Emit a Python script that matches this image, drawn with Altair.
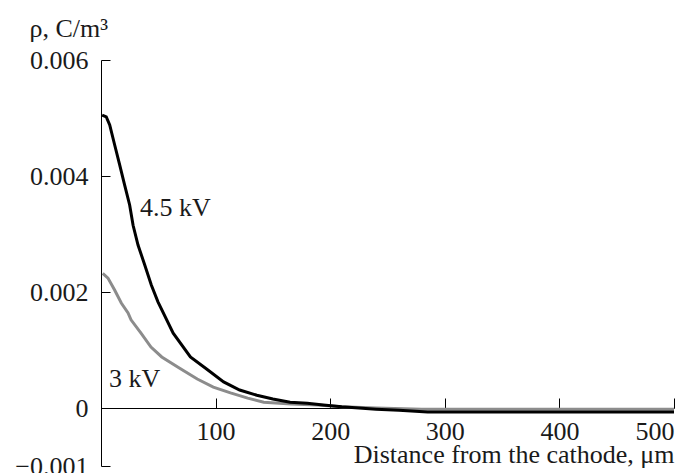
import altair as alt
import pandas as pd

# 4.5 kV curve
x_45 = [1, 4.6, 7.6, 12, 16.3, 20.7, 25, 28, 32.3, 38.1, 43.9, 49.7, 63, 78, 93, 107, 121, 136, 150, 165, 180,
        194, 210, 225, 240, 260, 285, 320, 400, 500]
y_45 = [0.00505, 0.00502, 0.00488, 0.00453, 0.00419, 0.00384, 0.00350, 0.00315, 0.00281, 0.00247, 0.00212,
        0.00183, 0.00129, 0.00088, 0.00066, 0.00045, 0.00031, 0.00022, 0.000155, 0.00010, 0.00008,
        0.00005, 0.00002, 0.0, -0.00002, -0.00004, -0.00007, -0.00007, -0.00007, -0.00007]
# 3 kV curve
x_3 = [1.5, 6.1, 12, 17.7, 23.6, 26.2, 34.9, 43.6, 53, 69, 84, 98, 113, 128, 142, 166, 189, 210, 240, 280, 350, 500]
y_3 = [0.00232, 0.00224, 0.00203, 0.00181, 0.00164, 0.00152, 0.00129, 0.00105, 0.00088, 0.00068, 0.00050,
       0.00036, 0.00026, 0.00017, 0.00010, 0.00007, 0.00005, 0.00002, 0.0, -0.00002, -0.00002, -0.00002]

series_names = ["4.5 kV", "3 kV"]
label_x = [34, 7]
label_y = [0.00331, 0.00036]
x_ticks = [100, 200, 300, 400, 500]
y_ticks = [-0.001, 0, 0.002, 0.004, 0.006]

W, H = 573, 406
FONT = "'Liberation Serif', 'Times New Roman', 'DejaVu Serif', serif"
FS = 26
TXT = "#1a1a1a"

df45 = pd.DataFrame({"x": x_45, "y": y_45})
df3 = pd.DataFrame({"x": x_3, "y": y_3})
dlab = pd.DataFrame({"x": label_x, "y": label_y, "t": series_names})

xscale = alt.Scale(domain=[0, 500], nice=False, zero=False)
yscale = alt.Scale(domain=[-0.001, 0.006], nice=False, zero=False)

zero_offset = -(H * 0.006 / 0.007)

gray = alt.Chart(df3).mark_line(color="#8c8c8c", strokeWidth=3).encode(
    x=alt.X("x:Q", scale=xscale, axis=alt.Axis(
        orient="bottom", offset=-(H + zero_offset), values=x_ticks, ticks=False, domain=False, grid=False,
        labelPadding=10, labelFont=FONT, labelFontSize=FS, labelColor=TXT,
        title="Distance from the cathode, μm", titleFont=FONT, titleFontSize=FS, titleColor=TXT,
        titleFontWeight="normal", titleAlign="right", titleAnchor="end", titleX=W, titleY=54,
        titleBaseline="alphabetic")),
    y=alt.Y("y:Q", scale=yscale, axis=alt.Axis(
        orient="left", values=y_ticks, ticks=False, domain=False, grid=False,
        labelPadding=13, labelFont=FONT, labelFontSize=FS, labelColor=TXT,
        labelExpr="datum.value == 0 ? '0' : replace(format(datum.value, '.3f'), '-', '\u2212')",
        title="ρ, C/m³", titleFont=FONT, titleFontSize=FS, titleColor=TXT, titleFontWeight="normal",
        titleAngle=0, titleAlign="left", titleX=-72, titleY=-24, titleBaseline="alphabetic")),
)

black = alt.Chart(df45).mark_line(color="black", strokeWidth=3).encode(
    x=alt.X("x:Q", scale=xscale, axis=None),
    y=alt.Y("y:Q", scale=yscale, axis=None),
)

labels = alt.Chart(dlab).mark_text(font=FONT, fontSize=FS, color=TXT, align="left", baseline="alphabetic").encode(
    x=alt.X("x:Q", scale=xscale, axis=alt.Axis(
        orient="top", offset=zero_offset, values=x_ticks, labels=False, ticks=True, tickSize=10,
        tickColor="black", domainColor="black", grid=False, title=None)),
    y=alt.Y("y:Q", scale=yscale, axis=alt.Axis(
        orient="right", offset=-W, values=y_ticks, labels=False, ticks=True, tickSize=9,
        tickColor="black", domainColor="black", grid=False, title=None)),
    text="t:N",
)

chart = alt.layer(gray, black, labels).resolve_axis(x="independent", y="independent").properties(
    width=W, height=H,
    autosize=alt.AutoSizeParams(type="none"),
    padding={"left": 101, "top": 60, "right": 22, "bottom": 7},
    background="white",
).configure_view(stroke=None)

chart.save("out.html", embed_options={"renderer": "svg", "actions": False})
